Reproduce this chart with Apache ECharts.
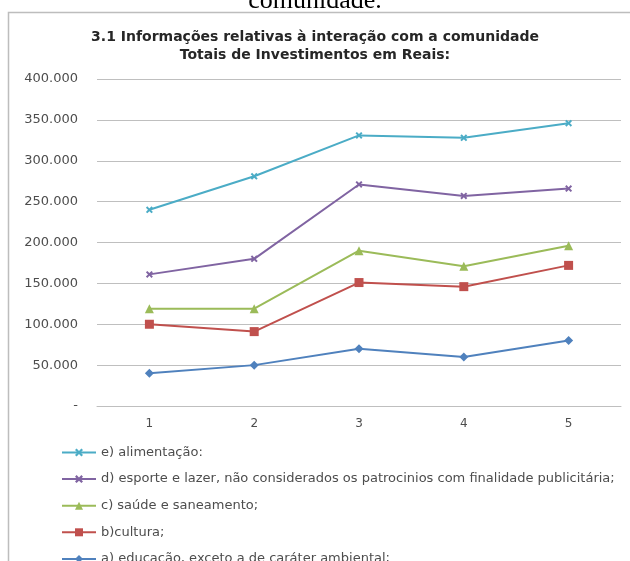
<!DOCTYPE html>
<html>
<head>
<meta charset="utf-8">
<script src="https://cdn.jsdelivr.net/npm/echarts@6/dist/echarts.min.js"></script>
<style>
  html, body { margin: 0; padding: 0; background: #fff; }
  #chart { width: 630px; height: 561px; }
</style>
</head>
<body>
<div id="chart"></div>
<script>
// categorias (anos 1..5)
const categories = ['1', '2', '3', '4', '5']

// séries em Reais
const alimentacao = [240000, 281000, 331000, 328000, 346000]
const esporte = [161000, 180000, 271000, 257000, 266000]
const saude = [119000, 119000, 190000, 171000, 196000]
const cultura = [100000, 91000, 151000, 146000, 172000]
const educacao = [40000, 50000, 70000, 60000, 80000]

const seriesNames = [
  'e) alimentação:',
  'd) esporte e lazer, não considerados os patrocinios com finalidade publicitária;',
  'c) saúde e saneamento;',
  'b)cultura;',
  'a) educação, exceto a de caráter ambiental;'
]

const titleLines = [
  '3.1 Informações relativas à interação com a comunidade',
  'Totais de Investimentos em Reais:'
]

const xMark = 'path://M2,0 L5,3 L8,0 L10,2 L7,5 L10,8 L8,10 L5,7 L2,10 L0,8 L3,5 L0,2 Z'

// formato contábil do Excel: 350.000 e "-" para zero
const fmt = (v) => {
  if (v === 0) return '-'
  return String(v).replace(/\B(?=(\d{3})+(?!\d))/g, '.')
}

const mkLine = (name, data, color, symbol, size) => ({
  name,
  type: 'line',
  data,
  symbol,
  symbolSize: size,
  showSymbol: true,
  lineStyle: { color, width: 2 },
  itemStyle: { color, borderColor: color, borderWidth: 0 }
})

const chart = echarts.init(document.getElementById('chart'))

chart.setOption({
  animation: false,
  textStyle: { fontFamily: 'DejaVu Sans' },
  graphic: [
    {
      type: 'text',
      left: 'center',
      top: -12,
      style: { text: 'comunidade.', font: '26px "Liberation Serif"', fill: '#000' }
    },
    {
      type: 'rect',
      shape: { x: 8.5, y: 12.5, width: 700, height: 600 },
      style: { fill: 'none', stroke: '#bdbdbd', lineWidth: 1.5 }
    }
  ],
  title: {
    text: titleLines.join('\n'),
    left: 'center',
    top: 23,
    textStyle: {
      fontFamily: 'DejaVu Sans',
      fontSize: 14,
      fontWeight: 'bold',
      color: '#262626',
      lineHeight: 18
    }
  },
  legend: {
    orient: 'vertical',
    left: 56,
    top: 441,
    height: 200,
    itemWidth: 34,
    itemHeight: 10,
    itemGap: 13.6,
    data: seriesNames,
    textStyle: { fontSize: 13, color: '#4d4d4d', fontFamily: 'DejaVu Sans' }
  },
  grid: { left: 97, right: 9, top: 79, bottom: 155, containLabel: false },
  xAxis: {
    type: 'category',
    data: categories,
    axisLine: { show: true, lineStyle: { color: '#bfbfbf' } },
    axisTick: { show: false },
    axisLabel: { color: '#4d4d4d', fontSize: 12, margin: 12 }
  },
  yAxis: {
    type: 'value',
    min: 0,
    max: 400000,
    interval: 50000,
    axisLine: { show: false },
    axisTick: { show: false },
    splitLine: { lineStyle: { color: '#bfbfbf', width: 1 } },
    axisLabel: { color: '#4d4d4d', fontSize: 13, margin: 19, formatter: fmt }
  },
  series: [
    mkLine(seriesNames[0], alimentacao, '#4bacc6', xMark, 7),
    mkLine(seriesNames[1], esporte, '#8064a2', xMark, 7),
    mkLine(seriesNames[2], saude, '#9bbb59', 'triangle', 9),
    mkLine(seriesNames[3], cultura, '#c0504d', 'rect', 9),
    mkLine(seriesNames[4], educacao, '#4f81bd', 'diamond', 9)
  ]
})
</script>
</body>
</html>
